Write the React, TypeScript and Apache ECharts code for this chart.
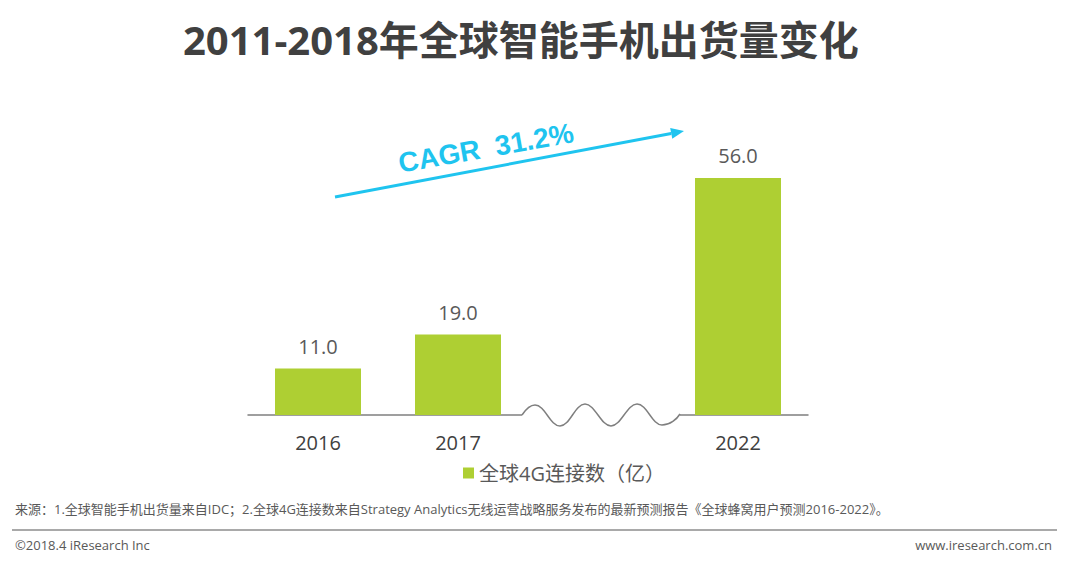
import React, { useEffect, useRef } from "react";
import * as echarts from "echarts";

const title = "2011-2018年全球智能手机出货量变化";
const categories = ["2016", "2017", "", "2022"];
const values: (number | string)[] = [11.0, 19.0, "-", 56.0];
const seriesName = "全球4G连接数（亿）";
const cagrText = "CAGR  31.2%";
const sourceText =
  "来源：1.全球智能手机出货量来自IDC；2.全球4G连接数来自Strategy Analytics无线运营战略服务发布的最新预测报告《全球蜂窝用户预测2016-2022》。";
const copyright = "©2018.4 iResearch Inc";
const website = "www.iresearch.com.cn";

const GREEN = "#AECF33";
const CYAN = "#1FC4EF";
const FONT = "'Open Sans', 'Noto Sans CJK SC', sans-serif";

const wavePath =
  "M522,415 C526,409 530,405 535,405 C545,405 550,426 560,426 C570,426 575,404 585,404 C595,404 601,426 611,426 C621,426 627,404 637,404 C647,404 652,425 662,425 C670,425 677,419 680,414";

let registered = false;

export default function App() {
  const ref = useRef<HTMLDivElement>(null);
  useEffect(() => {
    if (!ref.current) return;
    if (!registered) {
      echarts.graphic.registerShape("wave", echarts.graphic.extendPath(wavePath, {}));
      registered = true;
    }
    const chart = echarts.init(ref.current, null, { renderer: "svg" });
    const dx = 348, dy = -66;
    const len = Math.sqrt(dx * dx + dy * dy);
    const ux = dx / len, uy = dy / len;
    const tip = [684, 131];
    const base = [tip[0] - 13 * ux, tip[1] - 13 * uy];
    const px = -uy * 5.5, py = ux * 5.5;
    chart.setOption({
      animation: false,
      backgroundColor: "#ffffff",
      textStyle: { fontFamily: FONT },
      grid: { left: 248, right: 272, top: 161, bottom: 159 },
      legend: {
        data: [seriesName],
        left: 458,
        top: 458,
        icon: "rect",
        itemWidth: 11,
        itemHeight: 11,
        itemGap: 6,
        textStyle: { fontSize: 20, color: "#595959", fontFamily: FONT },
      },
      xAxis: {
        type: "category",
        data: categories,
        axisLine: { show: true, lineStyle: { color: "#7F7F7F", width: 1.5 } },
        axisTick: { show: false },
        axisLabel: { fontSize: 20, color: "#404040", margin: 17, fontFamily: FONT },
      },
      yAxis: { type: "value", min: 0, max: 60, show: false, splitLine: { show: false } },
      series: [
        {
          name: seriesName,
          type: "bar",
          data: values,
          barWidth: 86,
          itemStyle: { color: GREEN },
          label: {
            show: true,
            position: "top",
            distance: 12,
            fontSize: 20,
            color: "#595959",
            fontFamily: FONT,
            formatter: (p: any) => Number(p.value).toFixed(1),
          },
        },
      ],
      graphic: [
        {
          type: "text",
          x: 183,
          y: 39,
          style: {
            text: title,
            x: 0,
            y: 0,
            verticalAlign: "middle",
            fontSize: 40,
            fontWeight: "bold",
            fill: "#404040",
            fontFamily: FONT,
          },
        },
        {
          type: "rect",
          shape: { x: 522, y: 411, width: 158, height: 8 },
          style: { fill: "#ffffff" },
          z: 100,
        },
        {
          type: "wave",
          x: 0,
          y: 0,
          style: { fill: null, stroke: "#7F7F7F", lineWidth: 1.5 },
          z: 101,
        },
        {
          type: "line",
          shape: { x1: 335, y1: 197, x2: base[0], y2: base[1] },
          style: { stroke: CYAN, lineWidth: 3 },
          z: 100,
        },
        {
          type: "polygon",
          shape: { points: [tip, [base[0] + px, base[1] + py], [base[0] - px, base[1] - py]] },
          style: { fill: CYAN },
          z: 100,
        },
        {
          type: "text",
          x: 486,
          y: 148,
          rotation: (10 * Math.PI) / 180,
          style: {
            text: cagrText,
            x: 0,
            y: 0,
            align: "center",
            verticalAlign: "middle",
            fontSize: 28,
            fontWeight: "bold",
            fill: CYAN,
            fontFamily: "'Liberation Sans', Arial, sans-serif",
          },
          z: 100,
        },
        {
          type: "text",
          x: 15,
          y: 509,
          style: { text: sourceText, fontSize: 13, fill: "#595959", verticalAlign: "middle", fontFamily: FONT },
        },
        {
          type: "line",
          shape: { x1: 12, y1: 530, x2: 1057, y2: 530 },
          style: { stroke: "#8C8C8C", lineWidth: 1.5 },
        },
        {
          type: "text",
          x: 15,
          y: 545,
          style: { text: copyright, fontSize: 13, fill: "#595959", verticalAlign: "middle", fontFamily: FONT },
        },
        {
          type: "text",
          x: 1052,
          y: 545,
          style: { text: website, fontSize: 13, fill: "#595959", align: "right", verticalAlign: "middle", fontFamily: FONT },
        },
      ],
    });
    return () => chart.dispose();
  }, []);
  return (
    <div
      ref={ref}
      style={{ position: "fixed", left: 0, top: 0, width: 1080, height: 574, background: "#fff" }}
    />
  );
}
